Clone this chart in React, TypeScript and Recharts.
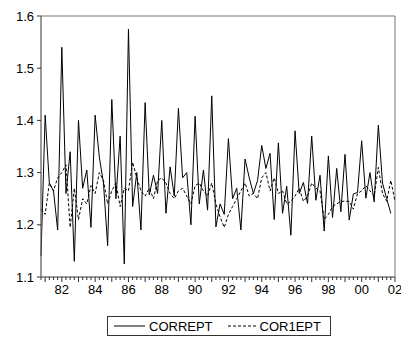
import { LineChart, Line, XAxis, YAxis, Legend, ReferenceArea } from "recharts"

// quarterly observations, 1980Q4 .. 2002Q1
const startYear = 1980
const startQuarter = 4

const corrept = [
  1.14, 1.41, 1.28, 1.265, 1.19, 1.54, 1.26, 1.34, 1.13, 1.40,
  1.27, 1.305, 1.195, 1.41, 1.33, 1.28, 1.16, 1.44, 1.25, 1.37,
  1.125, 1.575, 1.235, 1.30, 1.19, 1.434, 1.257, 1.295, 1.26, 1.40,
  1.222, 1.311, 1.255, 1.423, 1.29, 1.30, 1.20, 1.408, 1.24, 1.305,
  1.228, 1.447, 1.196, 1.24, 1.22, 1.365, 1.25, 1.27, 1.19, 1.326,
  1.29, 1.26, 1.285, 1.352, 1.308, 1.337, 1.21, 1.357, 1.222, 1.274,
  1.18, 1.38, 1.26, 1.281, 1.241, 1.37, 1.247, 1.295, 1.188, 1.332,
  1.214, 1.308, 1.225, 1.335, 1.209, 1.259, 1.262, 1.361, 1.251, 1.30,
  1.244, 1.391, 1.28, 1.25, 1.222,
]

const cor1ept = [
  1.23, 1.22, 1.28, 1.265, 1.29, 1.30, 1.315, 1.195, 1.27, 1.21,
  1.25, 1.24, 1.275, 1.26, 1.30, 1.285, 1.24, 1.265, 1.28, 1.235,
  1.27, 1.265, 1.32, 1.29, 1.265, 1.255, 1.27, 1.25, 1.285, 1.29,
  1.28, 1.26, 1.25, 1.265, 1.27, 1.255, 1.24, 1.275, 1.28, 1.265,
  1.255, 1.28, 1.24, 1.215, 1.195, 1.22, 1.235, 1.25, 1.265, 1.28,
  1.255, 1.26, 1.25, 1.29, 1.30, 1.265, 1.29, 1.26, 1.265, 1.24,
  1.245, 1.255, 1.27, 1.245, 1.255, 1.28, 1.27, 1.265, 1.21, 1.22,
  1.235, 1.24, 1.245, 1.245, 1.245, 1.23, 1.26, 1.265, 1.275, 1.265,
  1.255, 1.31, 1.26, 1.245, 1.285, 1.245,
]

const yTicks = [1.1, 1.2, 1.3, 1.4, 1.5, 1.6]
const yearLabels = ["82", "84", "86", "88", "90", "92", "94", "96", "98", "00", "02"]

const data = cor1ept.map((v, i) => ({
  i,
  corrept: i < corrept.length ? corrept[i] : null,
  cor1ept: v,
}))

const lastIndex = cor1ept.length - 1
const xTicks = data.map((d) => d.i)

const font = "'Liberation Sans', Arial, sans-serif"

function quarterOf(i: number) {
  return ((startQuarter - 1 + i) % 4) + 1
}
function yearOf(i: number) {
  return startYear + Math.floor((startQuarter - 1 + i) / 4)
}

function XTick(props: any) {
  const { x, y, payload } = props
  const i = payload.value
  const q1 = quarterOf(i) === 1
  const label = String(yearOf(i) % 100).padStart(2, "0")
  return (
    <g>
      <line x1={x} y1={y} x2={x} y2={y + (q1 ? 5 : 3)} stroke="#333" />
      {q1 && yearLabels.includes(label) && (
        <text x={x} y={y + 17} textAnchor="middle" fontSize={13} fontFamily={font} fill="#000">
          {label}
        </text>
      )}
    </g>
  )
}

function LegendBox() {
  return (
    <div
      style={{
        border: "1px solid #333",
        width: 222,
        height: 18,
        display: "flex",
        alignItems: "center",
        fontFamily: font,
        fontSize: 13,
        color: "#000",
        boxSizing: "content-box",
      }}
    >
      <svg width={36} height={10} style={{ marginLeft: 5 }}>
        <line x1={1} y1={5} x2={32} y2={5} stroke="#000" />
      </svg>
      <span>CORREPT</span>
      <svg width={36} height={10} style={{ marginLeft: 11 }}>
        <line x1={4} y1={5} x2={34} y2={5} stroke="#000" strokeDasharray="3 2" />
      </svg>
      <span>COR1EPT</span>
    </div>
  )
}

export default function App() {
  return (
    <div style={{ position: "absolute", left: 0, top: 0, background: "#fff" }}>
      <LineChart width={401} height={339} data={data} margin={{ top: 16, right: 6, left: 0, bottom: 0 }}>
        <ReferenceArea x1={0} x2={lastIndex} y1={1.1} y2={1.6} fill="none" stroke="#777" strokeWidth={1} />
        <XAxis
          dataKey="i"
          type="number"
          domain={[0, lastIndex]}
          ticks={xTicks}
          interval={0}
          tick={<XTick />}
          tickLine={false}
          tickSize={0}
          tickMargin={0}
          axisLine={{ stroke: "#777" }}
          height={62}
        />
        <YAxis
          domain={[1.1, 1.6]}
          ticks={yTicks}
          width={41}
          tickSize={4}
          tickMargin={3}
          tickLine={{ stroke: "#333" }}
          axisLine={{ stroke: "#777" }}
          tick={{ fontSize: 13, fontFamily: font, fill: "#000" }}
          tickFormatter={(v: number) => v.toFixed(1)}
          allowDataOverflow
        />
        <Line
          type="linear"
          dataKey="corrept"
          stroke="#000"
          strokeWidth={1}
          dot={false}
          isAnimationActive={false}
        />
        <Line
          type="linear"
          dataKey="cor1ept"
          stroke="#000"
          strokeWidth={1}
          strokeDasharray="3 2"
          dot={false}
          isAnimationActive={false}
        />
        <Legend
          layout="horizontal"
          verticalAlign="middle"
          content={<LegendBox />}
          wrapperStyle={{ position: "absolute", left: 107, top: 316, width: "auto" }}
        />
      </LineChart>
    </div>
  )
}
